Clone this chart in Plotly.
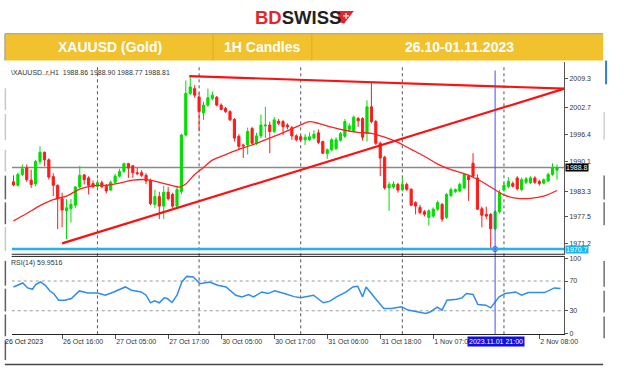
import plotly.graph_objects as go

W, H = 624, 371

# ---------------- data ----------------
bar_index = list(range(124))
open_ = [1985.5, 1984.7, 1987.2, 1988.7, 1985.9, 1985.0, 1990.2, 1992.3, 1990.6, 1986.7,
         1984.7, 1981.6, 1978.8, 1979.3, 1980.1, 1984.3, 1987.1, 1986.4, 1985.1, 1984.5,
         1985.3, 1984.5, 1983.6, 1985.4, 1986.8, 1987.9, 1989.7, 1989.2, 1987.6, 1987.6,
         1987.0, 1985.9, 1980.3, 1982.1, 1979.9, 1983.1, 1982.6, 1979.9, 1983.3, 1996.3,
         2005.9, 2007.0, 2005.1, 2001.4, 2003.2, 2004.7, 2005.0, 2003.2, 2002.4, 2001.7,
         1999.9, 1996.0, 1994.0, 1994.0, 1997.8, 1994.4, 1996.1, 1998.4, 1998.6, 1997.1,
         1999.5, 1999.4, 1998.6, 1998.0, 1996.1, 1995.9, 1995.2, 1995.2, 1995.6, 1996.8,
         1994.8, 1992.0, 1992.9, 1993.2, 1995.1, 1996.0, 1997.6, 1997.3, 2000.1, 2000.1,
         1996.7, 2002.8, 1999.4, 1994.4, 1991.2, 1984.1, 1984.3, 1984.9, 1983.7, 1984.9,
         1983.8, 1980.7, 1979.6, 1978.6, 1977.3, 1977.6, 1979.2, 1980.3, 1977.3, 1982.3,
         1983.3, 1983.4, 1984.1, 1986.8, 1989.8, 1986.4, 1979.3, 1978.0, 1978.0, 1974.7,
         1978.6, 1983.6, 1984.4, 1985.1, 1986.4, 1983.7, 1985.4, 1985.3, 1986.4, 1985.6,
         1985.2, 1985.7, 1987.2, 1988.2]
high = [1987.0, 1987.6, 1989.5, 1989.5, 1988.3, 1990.6, 1993.7, 1992.5, 1990.9, 1987.5,
        1984.9, 1983.0, 1981.5, 1981.5, 1984.5, 1989.2, 1987.3, 1986.8, 1985.8, 1986.0,
        1985.8, 1985.0, 1985.8, 1987.4, 1988.5, 1989.9, 1989.9, 1989.4, 1988.7, 1988.2,
        1987.5, 1986.2, 1983.7, 1983.2, 1984.6, 1984.3, 1983.0, 1984.3, 1996.6, 2008.9,
        2010.1, 2007.8, 2006.0, 2004.0, 2007.0, 2006.3, 2005.3, 2003.6, 2002.8, 2002.0,
        2000.2, 1996.5, 1994.3, 1998.0, 1998.2, 1996.8, 2001.0, 2002.8, 1999.4, 2000.5,
        2000.0, 1999.8, 1999.0, 1998.4, 1996.5, 1996.3, 1996.5, 1996.9, 1997.4, 1997.6,
        1995.0, 1993.2, 1995.6, 1995.8, 1997.0, 2000.0, 1999.0, 2000.8, 2000.5, 2000.4,
        2004.3, 2008.5, 1999.8, 1994.8, 1991.5, 1985.5, 1985.6, 1985.3, 1986.4, 1985.3,
        1984.0, 1981.0, 1980.2, 1979.0, 1979.2, 1979.6, 1981.2, 1980.6, 1982.9, 1984.2,
        1984.0, 1985.3, 1987.5, 1987.2, 1992.1, 1987.2, 1979.8, 1979.8, 1978.3, 1979.0,
        1983.6, 1985.3, 1986.6, 1985.6, 1986.8, 1986.5, 1986.6, 1986.8, 1986.8, 1986.0,
        1986.3, 1987.6, 1989.8, 1989.5]
low = [1984.5, 1984.4, 1986.8, 1985.5, 1984.1, 1984.5, 1989.5, 1989.1, 1986.0, 1982.2,
       1974.6, 1975.0, 1972.3, 1976.1, 1979.5, 1984.0, 1984.9, 1982.6, 1984.0, 1984.2,
       1984.0, 1982.8, 1983.4, 1985.0, 1986.5, 1987.6, 1986.4, 1986.4, 1987.0, 1986.6,
       1985.0, 1980.1, 1979.5, 1976.9, 1976.9, 1981.2, 1979.5, 1979.6, 1982.6, 1996.0,
       2005.5, 2004.9, 1997.1, 1999.8, 2002.8, 2004.3, 2002.9, 2002.0, 2001.4, 1999.5,
       1994.8, 1993.0, 1991.0, 1991.8, 1994.0, 1994.0, 1995.6, 1995.6, 1992.1, 1996.8,
       1998.6, 1996.3, 1997.6, 1995.2, 1994.8, 1994.9, 1994.0, 1994.9, 1995.3, 1994.2,
       1991.9, 1990.8, 1992.5, 1992.8, 1994.8, 1995.6, 1997.0, 1996.9, 1998.2, 1995.0,
       1994.8, 1999.0, 1994.0, 1986.8, 1983.7, 1978.8, 1983.9, 1983.0, 1983.3, 1983.4,
       1979.9, 1978.0, 1978.0, 1977.5, 1975.4, 1977.2, 1978.8, 1976.3, 1977.0, 1982.0,
       1982.9, 1983.1, 1983.8, 1981.1, 1986.5, 1979.0, 1975.0, 1976.9, 1970.0, 1974.3,
       1978.2, 1983.2, 1984.0, 1984.2, 1983.5, 1983.3, 1985.0, 1985.0, 1985.0, 1984.6,
       1984.9, 1985.5, 1986.9, 1986.0]
close = [1984.8, 1987.2, 1988.5, 1986.0, 1984.9, 1990.2, 1992.3, 1990.6, 1986.6, 1984.7,
         1981.6, 1979.0, 1979.5, 1980.3, 1984.3, 1987.0, 1986.0, 1984.7, 1984.4, 1985.3,
         1984.4, 1983.4, 1985.4, 1986.8, 1987.9, 1989.7, 1988.7, 1987.6, 1987.4, 1987.0,
         1985.7, 1980.5, 1982.1, 1979.9, 1983.1, 1981.6, 1979.9, 1983.7, 1996.3, 2005.9,
         2007.4, 2005.5, 2001.7, 2003.2, 2004.9, 2005.5, 2003.2, 2002.2, 2001.7, 1999.8,
         1995.6, 1993.7, 1993.8, 1997.1, 1994.4, 1996.1, 1998.6, 1998.6, 1997.1, 1999.8,
         1999.0, 1998.2, 1998.2, 1996.1, 1995.2, 1995.2, 1995.8, 1995.9, 1996.5, 1994.6,
         1992.1, 1992.9, 1995.2, 1995.2, 1996.6, 1999.4, 1998.4, 2000.4, 1999.6, 1995.8,
         2002.8, 1999.4, 1994.4, 1991.0, 1984.1, 1984.9, 1985.0, 1983.6, 1984.9, 1983.8,
         1980.1, 1979.9, 1978.4, 1978.0, 1978.8, 1979.2, 1980.7, 1976.9, 1982.6, 1983.7,
         1983.7, 1984.9, 1987.2, 1986.0, 1986.8, 1979.2, 1977.8, 1977.6, 1974.7, 1978.6,
         1983.0, 1984.7, 1985.6, 1984.5, 1983.9, 1986.0, 1986.2, 1986.4, 1985.4, 1985.1,
         1986.0, 1987.2, 1988.7, 1988.81]

ma_index = [0, 3, 6, 9, 12, 15, 18, 21, 24, 27, 30, 33, 36, 37.5, 39, 41, 43, 45, 48, 51,
            54, 57, 60, 63, 66, 67, 69, 72, 75, 78, 81, 84, 87, 90, 93, 96, 99, 102, 105,
            108, 111, 114, 117, 120, 123]
ma_value = [1976.5, 1978.2, 1980.0, 1981.4, 1982.2, 1983.8, 1984.6, 1984.7, 1985.2, 1985.9,
            1986.0, 1985.4, 1984.6, 1984.3, 1985.0, 1987.2, 1988.8, 1990.5, 1991.8, 1993.0,
            1994.0, 1995.2, 1996.4, 1997.7, 1999.1, 1999.4, 1999.0, 1998.1, 1997.4, 1996.9,
            1996.7, 1995.8, 1994.6, 1993.0, 1991.4, 1989.6, 1988.3, 1987.4, 1986.1, 1984.3,
            1982.5, 1981.7, 1981.7, 1982.2, 1983.5]

rsi_index = [0, 2.1, 3.2, 4.3, 5.0, 6.1, 7.2, 8.3, 9.1, 10.2, 11.6, 13.1, 14.9, 16.8, 19.0,
             20.8, 22.7, 25.3, 26.7, 28.9, 30.0, 31.0, 31.9, 33.0, 34.1, 34.8, 35.9, 37.0,
             38.1, 39.2, 40.7, 42.2, 44.4, 46.2, 48.1, 50.3, 51.7, 53.2, 54.3, 56.2, 57.6,
             59.1, 61.3, 63.5, 65.0, 66.4, 67.9, 70.1, 71.6, 73.1, 75.3, 76.8, 77.9, 79.0,
             79.8, 81.9, 83.8, 85.6, 87.8, 89.3, 91.5, 93.3, 94.4, 95.9, 97.0, 98.1, 100.3,
             101.5, 102.5, 104.0, 105.1, 106.9, 108.0, 108.8, 109.9, 111.3, 113.6, 115.0,
             116.5, 118.0, 120.2, 122.4, 123.8]
rsi_value = [62.0, 67.3, 60.7, 58.9, 65.1, 68.7, 64.2, 56.2, 53.1, 44.2, 44.2, 46.4, 56.7,
             54.0, 54.0, 50.9, 55.3, 62.0, 57.6, 55.3, 50.9, 40.7, 43.3, 40.7, 47.3, 46.4,
             41.1, 50.9, 68.7, 76.2, 75.3, 66.4, 68.7, 64.2, 62.0, 50.9, 48.7, 51.8, 48.7,
             55.3, 53.1, 56.7, 53.1, 49.0, 47.5, 48.7, 50.9, 40.7, 42.9, 48.7, 55.3, 62.0,
             62.9, 48.7, 62.0, 46.4, 33.1, 33.1, 35.3, 30.9, 28.7, 26.4, 28.7, 34.9, 30.9,
             44.2, 45.6, 47.3, 53.1, 51.8, 38.4, 37.5, 33.9, 39.8, 48.7, 53.1, 55.3, 50.9,
             54.4, 54.4, 54.4, 60.7, 59.95]

time_tick_index = [11, 23, 35, 47, 59, 71, 83, 95, 119]
time_tick_text = ["26 Oct 16:00", "27 Oct 05:00", "27 Oct 17:00", "30 Oct 05:00",
                  "30 Oct 17:00", "31 Oct 06:00", "31 Oct 18:00", "1 Nov 07:00", "2 Nov 08:00"]
first_date_text = "26 Oct 2023"
grid_index = [19, 42, 65, 88, 111]
price_ticks = [2009.3, 2002.7, 1996.4, 1990.1, 1983.3, 1977.5, 1971.2]
rsi_ticks = [0, 30, 70, 100]
rsi_levels = [30, 70]
trend_up_x, trend_up_y = [11, 124.7], [1971.3, 2007.0]
trend_top_x, trend_top_y = [39.8, 124.7], [2009.9, 2007.0]
last_price = 1988.81
support_level = 1970.0
support_text = "1970.7"
cursor_index = 109
cursor_text = "2023.11.01 21:00"
ohlc_header = "XAUUSD..r,H1  1988.86 1988.90 1988.77 1988.81"
rsi_header = "RSI(14) 59.9516"
banner = ["XAUUSD (Gold)", "1H Candles", "26.10-01.11.2023"]

# ---------------- helpers (layout positions) ----------------
def px(x):
    return x / W

def py(y):
    return 1 - y / H

X0, X1 = 12, 577
XR = [-0.4, 124.6]
MAIN_TOP, MAIN_BOT = 62, 256
RSI_TOP, RSI_BOT = 257, 336
YR = [1968.64, 2013.03]
RR = [-1.6, 103.7]

RED = "#ff1a1a"
GREEN = "#00dd00"
FONT = "Liberation Sans"

fig = go.Figure()

fig.add_trace(go.Candlestick(
    x=bar_index, open=open_, high=high, low=low, close=close,
    increasing=dict(line=dict(color=GREEN, width=1), fillcolor=GREEN),
    decreasing=dict(line=dict(color=RED, width=1), fillcolor=RED),
    whiskerwidth=0, xaxis="x", yaxis="y", hoverinfo="skip", showlegend=False))

fig.add_trace(go.Scatter(x=ma_index, y=ma_value, mode="lines",
                         line=dict(color="#ff2020", width=1.3, shape="spline", smoothing=0.8),
                         xaxis="x", yaxis="y", hoverinfo="skip", showlegend=False))

fig.add_trace(go.Scatter(x=trend_up_x, y=trend_up_y, mode="lines",
                         line=dict(color="#ff1010", width=2.2), xaxis="x", yaxis="y",
                         hoverinfo="skip", showlegend=False))
fig.add_trace(go.Scatter(x=trend_top_x, y=trend_top_y, mode="lines",
                         line=dict(color="#ff1010", width=2.2), xaxis="x", yaxis="y",
                         hoverinfo="skip", showlegend=False))

fig.add_trace(go.Scatter(x=rsi_index, y=rsi_value, mode="lines",
                         line=dict(color="#2e8cf0", width=1.5), xaxis="x2", yaxis="y2",
                         hoverinfo="skip", showlegend=False))

fig.add_trace(go.Scatter(x=[cursor_index], y=[support_level], mode="markers",
                         marker=dict(symbol="circle-open", size=5, color="#3030ff", line=dict(width=1)),
                         xaxis="x", yaxis="y", hoverinfo="skip", showlegend=False))

shapes = []
# banner
shapes.append(dict(type="rect", xref="paper", yref="paper", x0=px(5), x1=px(617),
                   y0=py(60), y1=py(33), fillcolor="#f2c12e", line=dict(width=0), layer="below"))
shapes.append(dict(type="line", xref="paper", yref="paper", x0=px(5), x1=px(617),
                   y0=py(33), y1=py(33), line=dict(color="#9a9a9a", width=1)))
shapes.append(dict(type="line", xref="paper", yref="paper", x0=px(5), x1=px(5),
                   y0=py(60), y1=py(33), line=dict(color="#9a9a9a", width=1)))
for xd in (218, 319):
    shapes.append(dict(type="line", xref="paper", yref="paper", x0=px(xd), x1=px(xd),
                       y0=py(60), y1=py(33), line=dict(color="#e0ac1c", width=1)))
# grid
for gi in grid_index:
    shapes.append(dict(type="line", xref="x", yref="paper", x0=gi, x1=gi,
                       y0=py(RSI_BOT), y1=py(MAIN_TOP + 4),
                       line=dict(color="#555555", width=1, dash="dot"), layer="below"))
for lv in rsi_levels:
    shapes.append(dict(type="line", xref="x2", yref="y2", x0=XR[0], x1=XR[1], y0=lv, y1=lv,
                       line=dict(color="#9a9a9a", width=1, dash="dot"), layer="below"))
# price lines
shapes.append(dict(type="line", xref="x", yref="y", x0=XR[0], x1=XR[1], y0=last_price,
                   y1=last_price, line=dict(color="#8a8a8a", width=1.5), layer="below"))
shapes.append(dict(type="line", xref="x", yref="y", x0=XR[0], x1=XR[1], y0=support_level,
                   y1=support_level, line=dict(color="#1eb4f0", width=2.5)))
# cursor
shapes.append(dict(type="line", xref="x", yref="paper", x0=cursor_index, x1=cursor_index,
                   y0=py(RSI_BOT), y1=py(MAIN_TOP + 8), line=dict(color="#4a4aff", width=1)))
# panel borders
shapes.append(dict(type="line", xref="paper", yref="paper", x0=px(X0), x1=px(X1),
                   y0=py(255.3), y1=py(255.3), line=dict(color="#222222", width=1)))
shapes.append(dict(type="line", xref="paper", yref="paper", x0=px(X0), x1=px(X1),
                   y0=py(257.5), y1=py(257.5), line=dict(color="#222222", width=1)))
shapes.append(dict(type="line", xref="paper", yref="paper", x0=px(5), x1=px(617),
                   y0=py(366.5), y1=py(366.5), line=dict(color="#444444", width=1.5)))
for (ya, yb, col) in [(88, 110, "#c8c8c8"), (114, 140, "#c8c8c8"), (150, 172, "#c8c8c8"),
                      (176, 200, "#606060"), (203, 225, "#606060"), (228, 252, "#c8c8c8"),
                      (262, 287, "#606060"), (290, 313, "#606060"), (316, 338, "#606060"),
                      (342, 362, "#606060")]:
    shapes.append(dict(type="line", xref="paper", yref="paper", x0=px(5.5), x1=px(5.5),
                       y0=py(yb), y1=py(ya), line=dict(color=col, width=1.5)))
# right window edge
shapes.append(dict(type="line", xref="paper", yref="paper", x0=px(620), x1=px(620),
                   y0=py(84), y1=py(60), line=dict(color="#3a78d8", width=2)))
for (ya, yb, col) in [(112, 140, "#d0d0d0"), (176, 200, "#707070"), (203, 226, "#707070"),
                      (262, 288, "#707070"), (292, 314, "#707070"), (318, 340, "#707070")]:
    shapes.append(dict(type="line", xref="paper", yref="paper", x0=px(618), x1=px(618),
                       y0=py(yb), y1=py(ya), line=dict(color=col, width=1.5)))
# logo flag
shapes.append(dict(type="path", xref="paper", yref="paper",
                   path="M {} {} L {} {} L {} {} L {} {} Z".format(
                       px(346), py(10), px(362), py(10), px(352), py(23), px(346), py(21)),
                   fillcolor="#e4262b", line=dict(width=0)))
shapes.append(dict(type="line", xref="paper", yref="paper", x0=px(351), x1=px(357),
                   y0=py(15), y1=py(15), line=dict(color="white", width=1.2)))
shapes.append(dict(type="line", xref="paper", yref="paper", x0=px(354), x1=px(354),
                   y0=py(18), y1=py(12), line=dict(color="white", width=1.2)))

annotations = []
annotations.append(dict(xref="paper", yref="paper", x=px(259), y=py(16.5), xanchor="left",
                        yanchor="middle", showarrow=False,
                        text="<b><span style='color:#e4262b'>BD</span><span style='color:#231f20'>SWISS</span></b>",
                        font=dict(family=FONT, size=18.5)))
for txt, xc in zip(banner, (113, 268, 470)):
    annotations.append(dict(xref="paper", yref="paper", x=px(xc), y=py(46.5), xanchor="center",
                            yanchor="middle", showarrow=False, text="<b>%s</b>" % txt,
                            font=dict(family=FONT, size=14, color="white")))
annotations.append(dict(xref="paper", yref="paper", x=px(9), y=py(72), xanchor="left",
                        yanchor="middle", showarrow=False, text="\\" + ohlc_header,
                        font=dict(family=FONT, size=7, color="#333333")))
annotations.append(dict(xref="paper", yref="paper", x=px(9), y=py(264), xanchor="left",
                        yanchor="middle", showarrow=False, text=rsi_header,
                        font=dict(family=FONT, size=7, color="#333333")))
annotations.append(dict(xref="paper", yref="paper", x=px(3), y=py(343), xanchor="left",
                        yanchor="middle", showarrow=False, text=first_date_text,
                        font=dict(family=FONT, size=7, color="#222222")))
annotations.append(dict(xref="paper", yref="y", x=px(578), y=last_price, xanchor="left",
                        yanchor="middle", showarrow=False, text="%.1f" % last_price,
                        bgcolor="#000000", borderpad=0, font=dict(family=FONT, size=7, color="white")))
annotations.append(dict(xref="paper", yref="y", x=px(578), y=support_level, xanchor="left",
                        yanchor="middle", showarrow=False, text=support_text,
                        bgcolor="#1eb4f0", borderpad=0, font=dict(family=FONT, size=7, color="white")))
annotations.append(dict(xref="x", yref="paper", x=cursor_index + 0.3, y=py(343), xanchor="center",
                        yanchor="middle", showarrow=False, text=cursor_text,
                        bgcolor="#1010e0", borderpad=1, font=dict(family=FONT, size=7, color="white")))

axis_font = dict(family=FONT, size=7, color="#333333")
fig.update_layout(
    width=W, height=H, margin=dict(l=0, r=0, t=0, b=0),
    paper_bgcolor="white", plot_bgcolor="white", showlegend=False,
    xaxis=dict(domain=[px(X0), px(X1)], range=XR, anchor="y", showticklabels=False,
               showgrid=False, zeroline=False, rangeslider=dict(visible=False), ticks=""),
    yaxis=dict(domain=[py(MAIN_BOT), py(MAIN_TOP)], range=YR, side="right", anchor="x",
               tickvals=price_ticks, ticktext=["%.1f" % v for v in price_ticks],
               ticks="outside", ticklen=3, tickcolor="#555555", tickfont=axis_font,
               showgrid=False, zeroline=False, showline=True, linecolor="#555555", linewidth=1),
    xaxis2=dict(domain=[px(X0), px(X1)], range=XR, anchor="y2", tickvals=time_tick_index,
                ticktext=time_tick_text, ticks="outside", ticklen=4, tickcolor="#555555",
                ticklabelposition="outside right", tickfont=axis_font, showgrid=False,
                zeroline=False, showline=True, linecolor="#222222", linewidth=1),
    yaxis2=dict(domain=[py(RSI_BOT), py(RSI_TOP)], range=RR, side="right", anchor="x2",
                tickvals=rsi_ticks, ticks="outside", ticklen=3, tickcolor="#555555",
                tickfont=axis_font, showgrid=False, zeroline=False, showline=True,
                linecolor="#555555", linewidth=1),
    shapes=shapes, annotations=annotations,
)

fig.write_html("out.html")
